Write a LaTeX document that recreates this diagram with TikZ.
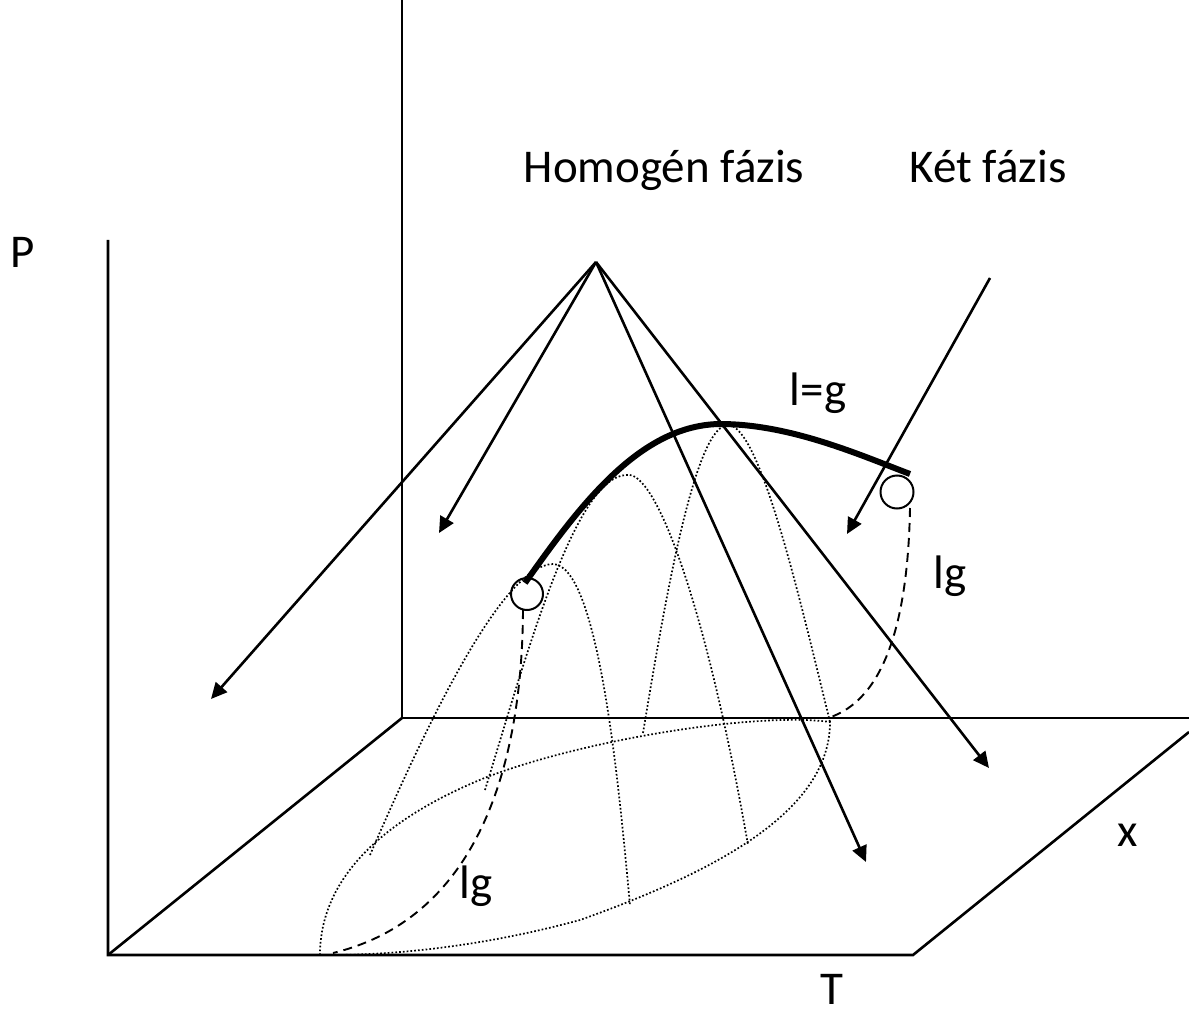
\documentclass[tikz,border=0pt]{standalone}
\usepackage{fontspec}
\setmainfont{Carlito}
\usetikzlibrary{arrows.meta}

\begin{document}
\begin{tikzpicture}[x=1pt,y=-1pt,>={Triangle[length=16pt,width=15pt]},
    axis/.style={black, line width=2.6pt},
    ray/.style={->, black, line width=2.6pt},
    sect/.style={black, line width=1.7pt, dash pattern=on 1.7pt off 2.1pt},
    lgline/.style={black, line width=1.9pt, dash pattern=on 9pt off 6pt},
    lbl/.style={font=\fontsize{47}{56}\selectfont, inner sep=0pt, anchor=base}]

  \useasboundingbox (0,0) rectangle (1189,1011);

  % ── axes: back wall, floor ──────────────────────────────────────────
  \draw[axis] (402,0) -- (402,718) -- (1189,718);
  \draw[axis] (108,240) -- (108,955) -- (913,955) -- (1189,732);
  \draw[axis] (108,955) -- (402,718);

  % ── labels ──────────────────────────────────────────────────────────
  \node[lbl] (P)     at (23,268)   {P};
  \node[lbl] (T)     at (832,1004) {T};
  \node[lbl] (xlbl)  at (1128,846) {x};
  \node[lbl] (homog) at (664,183)  {Homogén fázis};
  \node[lbl] (ketf)  at (988,183)  {Két fázis};
  \node[lbl] (leqg)  at (818,405)  {l=g};
  \node[lbl] (lgr)   at (950,588)  {lg};
  \node[lbl] (lgl)   at (476,898)  {lg};

  % ── floor loop and the dotted sections of the dome ──────────────────
  \draw[sect] (320,955) .. controls (320,880) and (380,820) .. (487,777)
        .. controls (590,738) and (760,712) .. (830,722)
        .. controls (830,810) and (720,870) .. (580,920)
        .. controls (470,950) and (380,955) .. (330,955) -- cycle;

  \draw[sect] (370,855) .. controls (420,740) and (500,565) .. (553,564)
        .. controls (600,565) and (620,800) .. (630,905);
  \draw[sect] (485,790) .. controls (525,660) and (575,475) .. (627,475)
        .. controls (655,470) and (705,600) .. (748,845);
  \draw[sect] (643,733) .. controls (665,600) and (695,425) .. (728,425)
        .. controls (760,425) and (800,600) .. (830,722);

  % ── critical points and the l=g line ────────────────────────────────
  \node[draw, circle, line width=2pt, minimum size=32pt, inner sep=0pt] (cleft)  at (527,594) {};
  \node[draw, circle, line width=2pt, minimum size=33pt, inner sep=0pt] (cright) at (897,492) {};

  \coordinate (ltop) at (525,583);
  \coordinate (rtop) at (910,474);
  \draw[line width=6pt] (ltop) .. controls (580,505) and (640,425) .. (720,424)
        .. controls (790,424) and (860,455) .. (rtop);

  % ── lg curves ───────────────────────────────────────────────────────
  \coordinate (lbot) at (523,610);
  \coordinate (rbot) at (910,508);
  \coordinate (lend) at (333,953);
  \coordinate (rend) at (828,718);
  \draw[lgline] (lbot) .. controls (522,780) and (470,920) .. (lend);
  \draw[lgline] (rbot) .. controls (908,620) and (885,700) .. (rend);

  % ── arrows from the phase labels ────────────────────────────────────
  \coordinate (apex) at (596,262);
  \coordinate (hA) at (211,699);
  \coordinate (hB) at (439,533);
  \coordinate (hC) at (866,862);
  \coordinate (hD) at (989,768);
  \foreach \t in {hA,hB,hC,hD} \draw[ray] (apex) -- (\t);

  \coordinate (kstart) at (990,278);
  \coordinate (kend)   at (847,534);
  \draw[ray] (kstart) -- (kend);

\end{tikzpicture}
\end{document}
